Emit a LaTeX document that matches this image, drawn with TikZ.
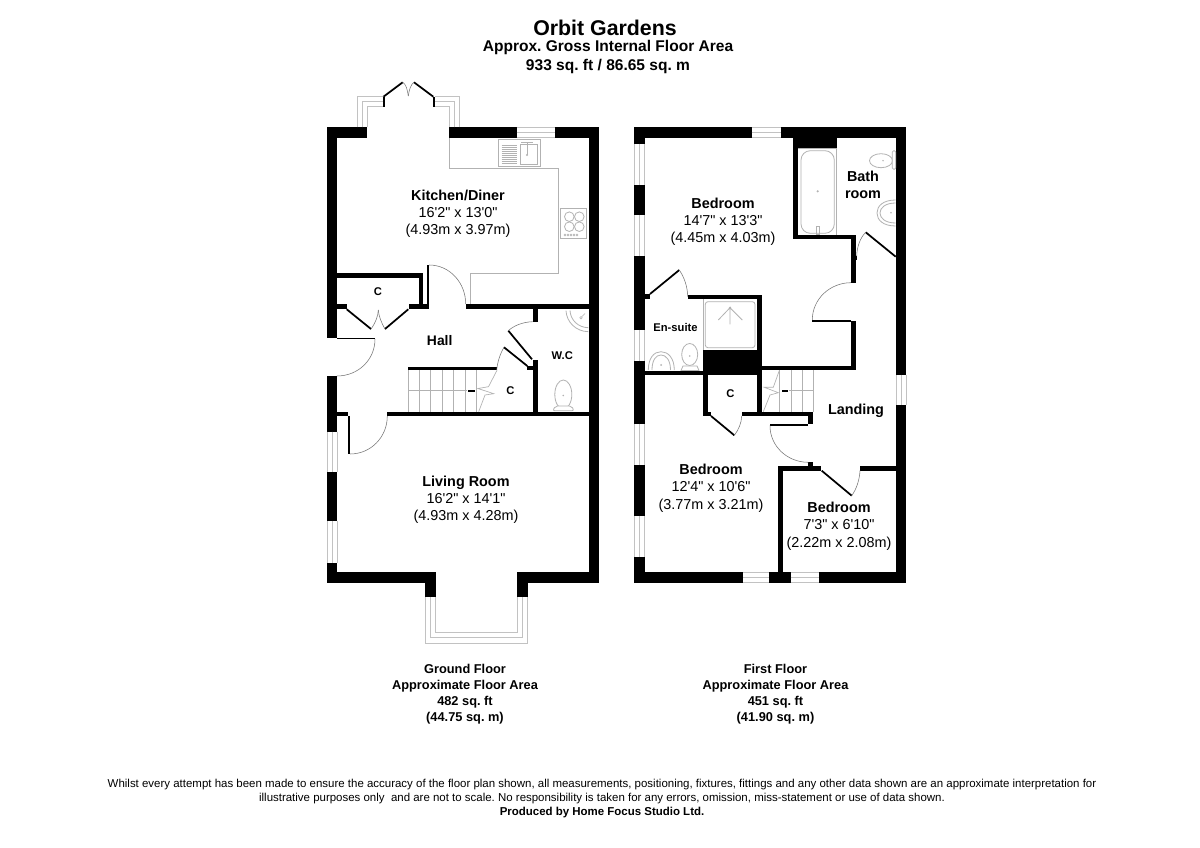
\documentclass[tikz,border=0pt]{standalone}
\usepackage{fontspec}
\newfontfamily\plansans{Liberation Sans}
\usetikzlibrary{calc}
\definecolor{fixgray}{gray}{0.7}
\tikzset{
  wallfill/.style={fill=black,draw=none},
  fixt/.style={draw=fixgray,line width=0.6pt,fill=none},
  winline/.style={draw=fixgray!80,line width=0.75pt},
  leaf/.style={draw=black,line width=1.3pt},
  swing/.style={draw=black!55,line width=0.4pt},
  every node/.style={inner sep=0pt,anchor=center},
  roomb/.style={font=\plansans\frenchspacing\fontsize{10.8}{10.8}\selectfont\bfseries,text height=10.8pt,text depth=3.07pt},
  roomr/.style={font=\plansans\frenchspacing\fontsize{10.8}{10.8}\selectfont,text height=10.8pt,text depth=3.07pt},
  hallb/.style={font=\plansans\fontsize{10.4}{10.4}\selectfont\bfseries,text height=10.8pt,text depth=3.07pt},
  smallb/.style={font=\plansans\fontsize{8.4}{8.4}\selectfont\bfseries,text height=8.4pt,text depth=2.39pt},
  areab/.style={font=\plansans\frenchspacing\fontsize{9.6}{9.6}\selectfont\bfseries,text height=9.6pt,text depth=2.73pt},
  notice/.style={font=\plansans\frenchspacing\fontsize{8.6}{8.6}\selectfont,text height=8.6pt,text depth=2.44pt},
  noticeb/.style={font=\plansans\frenchspacing\fontsize{8.6}{8.6}\selectfont\bfseries,text height=8.6pt,text depth=2.44pt},
  titleb/.style={font=\plansans\fontsize{16}{16}\selectfont\bfseries,text height=16pt,text depth=4.54pt},
  subb/.style={font=\plansans\frenchspacing\fontsize{11.65}{11.65}\selectfont\bfseries,text height=11.65pt,text depth=3.31pt},
}
\newcommand{\W}[4]{\fill[wallfill] (#1,#2) rectangle (#3,#4);}
\newcommand{\WinH}[4]{\draw[winline] (#1,#3) -- (#2,#3) (#1,{(#3+#4)/2}) -- (#2,{(#3+#4)/2}) (#1,#4) -- (#2,#4);}
\newcommand{\WinV}[4]{\draw[winline] (#3,#1) -- (#3,#2) ({(#3+#4)/2},#1) -- ({(#3+#4)/2},#2) (#4,#1) -- (#4,#2);}
\begin{document}
\begin{tikzpicture}[x=0.75pt,y=-0.75pt]
\useasboundingbox[fill=white] (0,0) rectangle (1200,848);
% ---- titles
\node[titleb] (title) at (605,27.5) {Orbit Gardens};
\node[subb] (sub1) at (608,45.5) {Approx. Gross Internal Floor Area};
\node[subb] (sub2) at (608,64.5) {933 sq. ft / 86.65 sq. m};
% ---- GROUND FLOOR walls
\W{327}{127.3}{367}{137.7}
\W{449.3}{127.3}{516.7}{137.7}
\W{555}{127.3}{599}{137.7}
\W{588.8}{127.3}{599}{582.5}
\W{327}{127.3}{337}{337.7}
\W{327}{376}{337}{431.7}
\W{327}{472}{337}{521}
\W{327}{562.5}{337}{582.5}
\W{327}{572.3}{435.7}{582.5}
\W{425.3}{572.3}{435.7}{597.3}
\W{517.3}{572.3}{599}{582.5}
\W{517.3}{572.3}{527.7}{597.3}
\W{337}{273.3}{423.3}{278.3}
\W{419}{273.3}{423.3}{309}
\W{337}{304}{346.7}{309}
\W{409.3}{304}{427.3}{309}
\W{466}{304}{589}{309}
\W{427.3}{265}{429}{309}
\W{337}{411.7}{348.3}{416}
\W{387.3}{411.7}{589}{416}
\W{408.3}{366.7}{496.7}{370.3}
\W{532.7}{360}{537.7}{412}
\W{527.3}{366}{533}{370.3}
\W{532.7}{309}{537.7}{322.3}
% thin door slabs
\W{337}{337.7}{375}{339.3}
\W{348.3}{416}{350}{454}
% windows ground
\WinH{516.7}{555}{127.5}{137.5}
\WinV{431.7}{472}{327.2}{337}
\WinV{521}{562.5}{327.2}{337}
% bay, living room
\draw[winline] (425.5,597) -- (425.5,643) -- (527.5,643) -- (527.5,597);
\draw[winline] (430.5,597) -- (430.5,637.5) -- (522.5,637.5) -- (522.5,597);
\draw[winline] (435.5,597) -- (435.5,632) -- (517.5,632) -- (517.5,597);
% french doors bay
\draw[winline] (357.3,127.3) -- (357.3,96.7) -- (383,96.7);
\draw[winline] (362.3,127.3) -- (362.3,101.7) -- (383,101.7);
\draw[winline] (367.3,127.3) -- (367.3,107) -- (383,107);
\draw[winline] (459.3,127.3) -- (459.3,96.7) -- (434.7,96.7);
\draw[winline] (454.5,127.3) -- (454.5,101.7) -- (434.7,101.7);
\draw[winline] (449.7,127.3) -- (449.7,107) -- (434.7,107);
\W{382.5}{96.7}{385}{107}
\W{432.5}{96.7}{434.7}{107}
\draw[leaf] (383.5,96.7) -- (402.7,82.3);
\draw[leaf] (433.3,96.7) -- (414,82.3);
\draw[swing] (402.7,82.3) .. controls (406,84) and (407.5,90) .. (408.3,96);
\draw[swing] (414,82.3) .. controls (411,84) and (409,90) .. (408.3,96);
% kitchen worktop
\draw[fixt] (449.5,137.7) -- (449.5,168.3) -- (558.3,168.3) -- (558.3,273.3) -- (470,273.3) -- (470,304);
% sink
\draw[fixt] (498.3,139) rectangle (540,166.7);
\draw[fixt] (520,144) rectangle (537.3,164.3);
\foreach \yy in {145,147,...,163}{\draw[fixgray,line width=0.5pt] (501.7,\yy) -- (516.7,\yy);}
\draw[fixt] (527,143) -- (527,155);
\fill[fixgray] (527,155) circle (1.2);
\draw[fixt] (521,142) -- (533,142);
% hob
\draw[fixt] (560.7,208.3) rectangle (586.7,238.3);
\foreach \cx/\cy in {569.3/216.7,579.3/216.7,569.3/226.7,579.3/226.7}{\draw[fixt] (\cx,\cy) circle (4.8);}
\foreach \cx in {565,568,571,574,577}{\draw[fixgray,line width=0.4pt] (\cx,235) circle (1);}
% doors ground
\draw[swing] (429,265) .. controls (450,265) and (465.7,283) .. (465.7,304);
\draw[leaf] (346.7,309.3) -- (371,329);
\draw[leaf] (408.3,309.3) -- (385,329);
\draw[swing] (371,329) .. controls (376,322) and (378,316) .. (378.3,310);
\draw[swing] (385,329) .. controls (381,322) and (378.8,316) .. (378.3,310);
\draw[swing] (375,339) .. controls (375,360) and (358,376) .. (337,376);
\draw[swing] (350,454) .. controls (371,454) and (387.3,437) .. (387.3,416);
\draw[leaf] (504,347.3) -- (527.3,366);
\draw[swing] (504,347.3) .. controls (500,354) and (497.5,362) .. (496.7,370);
\draw[leaf] (508.3,330.7) -- (532,359.3);
\draw[swing] (508.3,330.7) .. controls (514,325.5) and (523,322) .. (532.7,321.7);
% stairs ground
\foreach \sx in {408.3,419.3,430.7,442,453.7,465,476.3}{\draw[fixt,line width=0.45pt] (\sx,370.3) -- (\sx,411.7);}
\draw[fixt,line width=0.45pt] (408.3,390.7) -- (467,390.7);
\draw[fixt,line width=0.5pt,line join=miter] (497,370.3) -- (488.5,386.7) -- (478,388.5) -- (493.7,393.7) -- (485,395) -- (478.7,411.7);
\W{467.7}{390.2}{475}{392.2}
% wc fittings
\draw[fixt] (566,310.7) .. controls (566.5,322) and (576,331.5) .. (588.3,331.7);
\draw[fixt] (570,310.5) .. controls (570.5,320) and (578,327.5) .. (588.3,327.7);
\draw[fixt,line width=0.4pt] (581,317.7) circle (1.3) (582,316.5) -- (585,313.5);
\draw[fixt] (563.3,394.5) ellipse (8.5 and 14.5);
\fill[fixgray] (563.3,395.5) circle (0.9);
\draw[fixt,fill=white,rounded corners=1.5pt] (552.7,410.7) -- (555.5,406) -- (571.5,406) -- (574,410.7) -- cycle;
% ---- ground labels
\node[smallb] (cupa) at (378,291.5) {C};
\node[hallb] (hall) at (439.7,340.8) {Hall};
\node[smallb] (wc) at (562.3,355.3) {W.C};
\node[smallb] (cupb) at (510.5,390) {C};
\node[roomb] (kit1) at (458,195) {Kitchen/Diner};
\node[roomr] (kit2) at (458,212) {16'2" x 13'0"};
\node[roomr] (kit3) at (458,229.5) {(4.93m x 3.97m)};
\node[roomb] (liv1) at (466,481) {Living Room};
\node[roomr] (liv2) at (466,498) {16'2" x 14'1"};
\node[roomr] (liv3) at (466,515.5) {(4.93m x 4.28m)};
% ---- FIRST FLOOR walls
\W{634.3}{127.3}{751.7}{137.7}
\W{781}{127.3}{906.3}{137.7}
\W{896.3}{127.3}{906.3}{375}
\W{896.3}{405}{906.3}{582.7}
\W{634.3}{127.3}{644.5}{144}
\W{634.3}{185}{644.5}{215}
\W{634.3}{256}{644.5}{330}
\W{634.3}{361}{644.5}{424}
\W{634.3}{465}{644.5}{516}
\W{634.3}{557.3}{644.5}{582.7}
\W{634.3}{572.3}{743.3}{582.7}
\W{769.3}{572.3}{790.7}{582.7}
\W{818.7}{572.3}{906.3}{582.7}
\W{793.3}{137}{798.3}{239.3}
\W{793.3}{137}{836.7}{148}
\W{793.3}{235}{855.7}{239.3}
\W{850.7}{235}{855.7}{282.7}
\W{851}{256}{857}{260.5}
\W{895.7}{256}{897}{260.5}
\W{850.7}{321.3}{855.7}{370}
\W{812.3}{320}{851}{321.7}
\W{762}{365.7}{855.7}{370}
\W{687.7}{295}{762}{299.3}
\W{757.3}{295}{762}{411.7}
\W{703.3}{350}{762}{375.3}
\W{644}{370.7}{703.5}{375.3}
\W{703.3}{375}{708.3}{416}
\W{703.3}{411.7}{711}{416}
\W{741.7}{411.7}{813.3}{416}
\W{808.3}{411.7}{813.3}{424}
\W{770}{424}{808.3}{425.7}
\W{808.3}{462.3}{813.3}{466}
\W{777.7}{466}{821}{470.7}
\W{860}{466}{896.5}{470.7}
\W{777.7}{466}{782.7}{572.5}
\W{644.5}{294}{650}{299.3}
% windows first
\WinH{751.7}{781}{127.5}{137.5}
\WinV{144}{185}{634.5}{644.5}
\WinV{215}{256}{634.5}{644.5}
\WinV{330}{361}{634.5}{644.5}
\WinV{424}{465}{634.5}{644.5}
\WinV{516}{557.3}{634.5}{644.5}
\WinV{375}{405}{896.5}{906.3}
\WinH{743.3}{769.3}{572.5}{582.5}
\WinH{790.7}{818.7}{572.5}{582.5}
% doors first
\draw[leaf] (865.7,232.3) -- (895.7,256.7);
\draw[swing] (865.7,232.3) .. controls (860,238) and (857,247) .. (856.7,256);
\draw[swing] (851,282.7) .. controls (830,282.7) and (812.3,299) .. (812.3,320);
\draw[leaf] (650,294) -- (679.3,270);
\draw[swing] (679.3,270) .. controls (684,277) and (687.5,286) .. (687.7,296.7);
\draw[leaf] (711,416) -- (734.3,435.3);
\draw[swing] (734.3,435.3) .. controls (738.5,430) and (741.5,423) .. (741.7,416);
\draw[swing] (770,425.7) .. controls (770,446) and (787,462.3) .. (808.3,462.3);
\draw[leaf] (821.7,470.7) -- (851.7,495.7);
\draw[swing] (851.7,495.7) .. controls (856.5,489) and (859.5,480) .. (860,470.7);
% bath
\draw[fixt] (798.3,148) -- (836.7,148) -- (836.7,235);
\draw[fixt,rounded corners=7pt] (801,150.7) rectangle (834.3,233.3);
\fill[fixgray] (817.7,191.3) circle (1.2);
\draw[fixt] (816.5,226) rectangle (819,234);
% bath wc + basin
\draw[fixt] (881,160.7) ellipse (11.5 and 7);
\fill[fixgray] (883,160.7) circle (0.8);
\draw[fixt,fill=white,rounded corners=1pt] (892.3,150.7) rectangle (895.8,169.3);
\draw[fixt] (895.7,200) .. controls (883,200) and (877,206) .. (877,213) .. controls (877,220) and (883,226) .. (895.7,226);
\draw[fixt] (895.7,203) .. controls (885,203) and (880,208) .. (880,213) .. controls (880,218) and (885,223) .. (895.7,223);
\fill[fixgray] (891,212.7) circle (0.9);
% shower
\draw[fixt] (703.3,299.3) -- (703.3,350);
\draw[fixt,rounded corners=2pt] (705.3,301.7) rectangle (755,347.7);
\fill[fixgray] (730,307.7) circle (1.2);
\draw[fixt] (730,307.7) -- (718.3,320) (730,307.7) -- (742.3,320) (730,307.7) -- (730,324.3);
% ensuite basin + wc
\draw[fixt] (648.3,370) .. controls (648.3,358) and (654,351.7) .. (661,351.7) .. controls (668,351.7) and (674.3,358) .. (674.3,370);
\draw[fixt] (652,370) .. controls (652,360) and (656,355) .. (661,355) .. controls (666,355) and (670.5,360) .. (670.5,370);
\fill[fixgray] (661,365) circle (1);
\draw[fixt] (689.7,354.5) ellipse (8 and 11);
\fill[fixgray] (689.7,356) circle (0.8);
\draw[fixt,fill=white] (681,370.5) -- (683,366) -- (697,366) -- (699,370.5) -- cycle;
% stairs first
\foreach \sx in {779.3,791,802.3,813.7}{\draw[fixt,line width=0.45pt] (\sx,370) -- (\sx,411.7);}
\draw[fixt,line width=0.45pt] (788.5,390.7) -- (813.7,390.7);
\draw[fixt,line width=0.5pt,line join=miter] (779.3,370.5) -- (773.3,387.3) -- (764.3,387.3) -- (778.3,392.7) -- (770,395) -- (763.3,411.7);
\W{781.7}{389.8}{788.3}{391.8}
% ---- first labels
\node[roomb] (bed1a) at (723,203) {Bedroom};
\node[roomr] (bed1b) at (723,220) {14'7" x 13'3"};
\node[roomr] (bed1c) at (723,237.5) {(4.45m x 4.03m)};
\node[roomb] (bath1) at (863,176) {Bath};
\node[roomb] (bath2) at (863,193) {room};
\node[smallb] (ens) at (675.5,327.3) {En-suite};
\node[smallb] (cupc) at (730.3,393.5) {C};
\node[roomb] (land) at (856,409.5) {Landing};
\node[roomb] (bed2a) at (711,469.5) {Bedroom};
\node[roomr] (bed2b) at (711,486.7) {12'4" x 10'6"};
\node[roomr] (bed2c) at (711,504.2) {(3.77m x 3.21m)};
\node[roomb] (bed3a) at (839,507.2) {Bedroom};
\node[roomr] (bed3b) at (839,524.5) {7'3" x 6'10"};
\node[roomr] (bed3c) at (839,542) {(2.22m x 2.08m)};
% ---- areas
\node[areab] (g1) at (465,669) {Ground Floor};
\node[areab] (g2) at (465,685) {Approximate Floor Area};
\node[areab] (g3) at (465,701) {482 sq. ft};
\node[areab] (g4) at (465,716.5) {(44.75 sq. m)};
\node[areab] (f1) at (775.5,669) {First Floor};
\node[areab] (f2) at (775.5,685) {Approximate Floor Area};
\node[areab] (f3) at (775.5,701) {451 sq. ft};
\node[areab] (f4) at (775.5,716.5) {(41.90 sq. m)};
% ---- notice
\node[notice] (n1) at (602,783.5) {Whilst every attempt has been made to ensure the accuracy of the floor plan shown, all measurements, positioning, fixtures, fittings and any other data shown are an approximate interpretation for};
\node[notice] (n2) at (602,797.5) {illustrative purposes only\ \ and are not to scale. No responsibility is taken for any errors, omission, miss-statement or use of data shown.};
\node[noticeb] (n3) at (602,811.5) {Produced by Home Focus Studio Ltd.};
\end{tikzpicture}
\end{document}
